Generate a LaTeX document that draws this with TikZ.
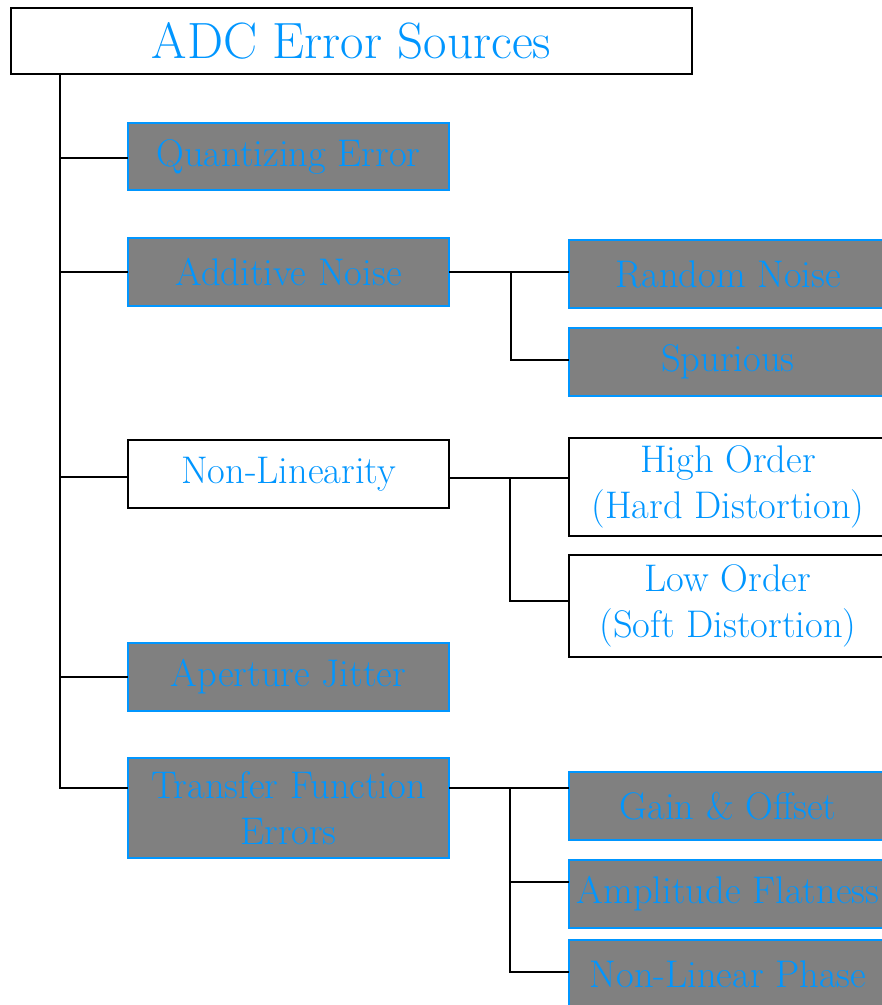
\documentclass[tikz,border=0pt]{standalone}
\usepackage{fontspec}
\definecolor{tblue}{RGB}{0,150,255}
\definecolor{boxgray}{RGB}{128,128,128}
\begin{document}
\begin{tikzpicture}[x=1pt,y=-1pt,
  every node/.style={inner sep=0pt,outer sep=0pt,align=center,text=tblue},
  lbl/.style={font=\fontsize{38.5}{46}\selectfont\addfontfeature{FakeBold=0.3}},
  graybox/.style={lbl,draw=tblue,fill=boxgray,line width=2pt},
  whitebox/.style={lbl,draw=black,fill=white,line width=2pt},
  leftbox/.style={minimum width=321pt},
  rightbox/.style={minimum width=318pt},
  conn/.style={draw=black,line width=2pt}]
\useasboundingbox (0,0) rectangle (882,1005);
\clip (0,0) rectangle (882,1005);
% title
\node[draw=black,fill=white,line width=2pt,minimum width=681pt,minimum height=66pt,
      font=\fontsize{51}{58}\selectfont\addfontfeature{FakeBold=0.3}] (title) at (351.5,41) {ADC Error Sources};
% left column
\node[graybox,leftbox,minimum height=67pt] (q) at (288.5,156.5) {Quantizing Error};
\node[graybox,leftbox,minimum height=68pt] (an) at (288.5,272) {Additive Noise};
\node[whitebox,leftbox,minimum height=68pt] (nl) at (288.5,474) {Non-Linearity};
\node[graybox,leftbox,minimum height=68pt] (aj) at (288.5,677) {Aperture Jitter};
\node[graybox,leftbox,minimum height=100pt] (tfe) at (288.5,808) {Transfer Function\\Errors};
% right column
\node[graybox,rightbox,minimum height=68pt] (rn) at (728,274) {Random Noise};
\node[graybox,rightbox,minimum height=68pt] (sp) at (728,362) {Spurious};
\node[whitebox,rightbox,minimum height=98pt] (ho) at (728,487) {High Order\\(Hard Distortion)};
\node[whitebox,rightbox,minimum height=102pt] (lo) at (728,606) {Low Order\\(Soft Distortion)};
\node[graybox,rightbox,minimum height=68pt] (go) at (728,806) {Gain \& Offset};
\node[graybox,rightbox,minimum height=68pt] (af) at (728,894) {Amplitude Flatness};
\node[graybox,rightbox,minimum height=68pt] (nlp) at (728,974) {Non-Linear Phase};
% connection points
\coordinate (ttop) at (60,74);
\coordinate (qin) at (128,158);
\coordinate (anin) at (128,272);
\coordinate (nlin) at (128,477);
\coordinate (ajin) at (128,677);
\coordinate (tfein) at (128,788);
\coordinate (tfeout) at (449,788);
\coordinate (nlout) at (449,478);
\coordinate (rnin) at (569,272);
\coordinate (spin) at (569,360);
\coordinate (hoin) at (569,478);
\coordinate (loin) at (569,601);
\coordinate (goin) at (569,788);
\coordinate (afin) at (569,882);
\coordinate (nlpin) at (569,972);
\coordinate (b1) at (511,272);
\coordinate (b2) at (510,478);
\coordinate (b3) at (510,788);
% trunk
\draw[conn] (ttop) |- (tfein);
\draw[conn] (ttop |- qin) -- (qin);
\draw[conn] (ttop |- anin) -- (anin);
\draw[conn] (ttop |- nlin) -- (nlin);
\draw[conn] (ttop |- ajin) -- (ajin);
% additive noise
\draw[conn] (an.east) -- (rnin);
\draw[conn] (b1) |- (spin);
% non-linearity
\draw[conn] (nlout) -- (hoin);
\draw[conn] (b2) |- (loin);
% transfer function
\draw[conn] (tfeout) -- (goin);
\draw[conn] (b3) |- (afin);
\draw[conn] (b3) |- (nlpin);
\end{tikzpicture}
\end{document}
